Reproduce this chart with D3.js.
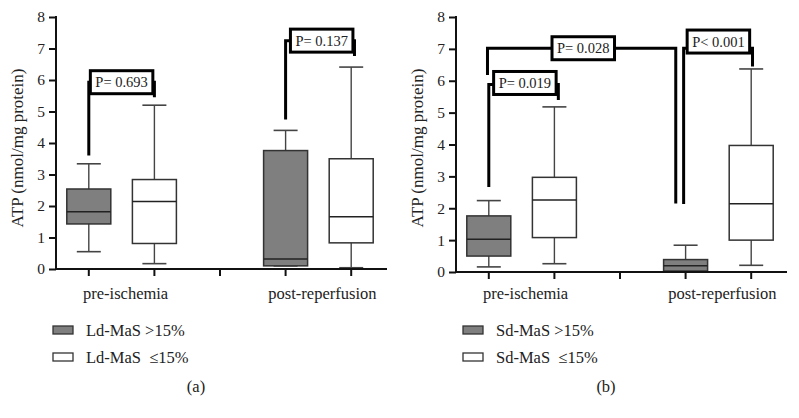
<!DOCTYPE html>
<html>
<head>
<meta charset="utf-8">
<script src="https://cdn.jsdelivr.net/npm/d3@7"></script>
<style>
  body { margin: 0; background: #fff; }
  text { font-family: "Liberation Serif", "DejaVu Serif", serif; fill: #222; }
</style>
</head>
<body>
<script>
width = 799;
height = 418;

// categories and slots on the x axis (slot 3 is the empty gap)
groups = ["pre-ischemia", "post-reperfusion"];
groupSlots = [1.5, 4.5];
boxSlots = [1, 2, 4, 5];
boxFills = ["gray", "white", "gray", "white"];
yTicks = [0, 1, 2, 3, 4, 5, 6, 7, 8];

// [min, q1, median, q3, max]
statsA = [
  [0.55, 1.43, 1.82, 2.54, 3.34],
  [0.17, 0.81, 2.14, 2.84, 5.20],
  [0.10, 0.10, 0.32, 3.76, 4.40],
  [0.04, 0.83, 1.66, 3.50, 6.41]
];
statsB = [
  [0.16, 0.50, 1.03, 1.76, 2.24],
  [0.26, 1.08, 2.26, 2.97, 5.18],
  [0.02, 0.03, 0.20, 0.39, 0.84],
  [0.21, 1.00, 2.14, 3.97, 6.37]
];

// brackets: legs at slots x1/x2, leg ends y1/y2, bar at y, label centre lx/ly
bracketsA = [
  {x1: 1, x2: 2, y1: 3.60, y: 5.93, y2: 5.45, lx: 1.5, ly: 5.93, label: "P= 0.693"},
  {x1: 4, x2: 5.05, y1: 4.75, y: 7.25, y2: 6.76, lx: 4.55, ly: 7.25, label: "P= 0.137"}
];
bracketsB = [
  {x1: 1, x2: 2.06, y1: 2.67, y: 5.88, y2: 5.40, lx: 1.55, ly: 5.93, label: "P= 0.019"},
  {x1: 0.98, x2: 3.85, y1: 6.18, y: 7.02, y2: 2.15, lx: 2.44, ly: 7.02, label: "P= 0.028"},
  {x1: 3.97, x2: 5.02, y1: 2.13, y: 7.02, y2: 6.45, lx: 4.5, ly: 7.23, label: "P< 0.001"}
];

legendA = ["Ld-MaS >15%", "Ld-MaS  \u226415%"];
legendB = ["Sd-MaS >15%", "Sd-MaS  \u226415%"];

svg = d3.select("body").append("svg")
  .attr("width", width)
  .attr("height", height);
svg.append("rect").attr("width", width).attr("height", height).attr("fill", "#fff");

function draw_panel(ox, y0, stats, brackets, legend, legendX, tag) {
  var g = svg.append("g");
  var x = d3.scaleLinear().domain([0.5, 5.5]).range([ox, ox + 328]);
  var y = d3.scaleLinear().domain([0, 8]).range([y0, 17]);
  var boxW = 44, capW = 24;

  // boxes
  var box = g.selectAll(".box").data(stats).enter().append("g");
  box.append("line")
    .attr("x1", function(d, i) { return x(boxSlots[i]); })
    .attr("x2", function(d, i) { return x(boxSlots[i]); })
    .attr("y1", function(d) { return y(d[0]); })
    .attr("y2", function(d) { return y(d[4]); })
    .attr("stroke", "#444").attr("stroke-width", 1.4);
  [0, 4].forEach(function(k) {
    box.append("line")
      .attr("x1", function(d, i) { return x(boxSlots[i]) - capW / 2; })
      .attr("x2", function(d, i) { return x(boxSlots[i]) + capW / 2; })
      .attr("y1", function(d) { return y(d[k]); })
      .attr("y2", function(d) { return y(d[k]); })
      .attr("stroke", "#444").attr("stroke-width", 1.6);
  });
  box.append("rect")
    .attr("x", function(d, i) { return x(boxSlots[i]) - boxW / 2; })
    .attr("width", boxW)
    .attr("y", function(d) { return y(d[3]); })
    .attr("height", function(d) { return y(d[1]) - y(d[3]); })
    .attr("fill", function(d, i) { return boxFills[i] == "gray" ? "#7f7f7f" : "#fff"; })
    .attr("stroke", "#333").attr("stroke-width", 1.5);
  box.append("line")
    .attr("x1", function(d, i) { return x(boxSlots[i]) - boxW / 2; })
    .attr("x2", function(d, i) { return x(boxSlots[i]) + boxW / 2; })
    .attr("y1", function(d) { return y(d[2]); })
    .attr("y2", function(d) { return y(d[2]); })
    .attr("stroke", "#222").attr("stroke-width", 1.5);

  // axes
  var yAxis = g.append("g")
    .attr("transform", "translate(" + ox + ",0)")
    .call(d3.axisLeft(y).tickValues(yTicks).tickSize(7).tickSizeOuter(0).tickPadding(4));
  yAxis.selectAll("path, line").attr("stroke", "#111").attr("stroke-width", 2);
  yAxis.selectAll("text").style("font-family", "Liberation Serif").style("font-size", "15.5px").attr("fill", "#222");
  yAxis.select(".domain").attr("d", "M0," + (y(8) - 1) + "V" + (y0 + 1));

  g.append("line").attr("x1", ox - 1).attr("x2", ox + 331)
    .attr("y1", y0).attr("y2", y0).attr("stroke", "#111").attr("stroke-width", 2);
  g.selectAll(".xt").data([1, 2, 3, 4, 5]).enter().append("line")
    .attr("x1", function(d) { return x(d); }).attr("x2", function(d) { return x(d); })
    .attr("y1", y0).attr("y2", y0 + 7)
    .attr("stroke", "#111").attr("stroke-width", 2);
  g.selectAll(".cat").data(groups).enter().append("text")
    .attr("x", function(d, i) { return x(groupSlots[i]) + 4; })
    .attr("y", 299)
    .attr("text-anchor", "middle")
    .style("font-size", "16.5px")
    .text(function(d) { return d; });

  g.append("text")
    .attr("transform", "translate(" + (ox - 33) + ",148) rotate(-90)")
    .attr("text-anchor", "middle")
    .style("font-size", "17px")
    .text("ATP (nmol/mg protein)");

  // significance brackets
  brackets.forEach(function(b) {
    g.append("path")
      .attr("d", "M" + x(b.x1) + "," + y(b.y1) + "V" + y(b.y) + "H" + x(b.x2) + "V" + y(b.y2))
      .attr("fill", "none").attr("stroke", "#000").attr("stroke-width", 3);
    var t = g.append("text")
      .attr("x", x(b.lx)).attr("y", y(b.ly))
      .attr("text-anchor", "middle").attr("dy", "0.35em")
      .style("font-size", "14.5px")
      .text(b.label);
    var bb = t.node().getBBox();
    g.insert("rect", function() { return t.node(); })
      .attr("x", bb.x - 5).attr("y", y(b.ly) - 11.5)
      .attr("width", bb.width + 10).attr("height", 23)
      .attr("fill", "#fff").attr("stroke", "#000").attr("stroke-width", 3);
  });

  // legend
  legend.forEach(function(name, i) {
    var ly = 326 + i * 27;
    g.append("rect").attr("x", legendX).attr("y", ly)
      .attr("width", 20).attr("height", 8)
      .attr("fill", i == 0 ? "#7f7f7f" : "#fff")
      .attr("stroke", "#333").attr("stroke-width", 1.3);
    g.append("text").attr("x", legendX + 33).attr("y", ly + 10)
      .style("font-size", "16.5px").style("white-space", "pre")
      .text(name);
  });

  g.append("text").attr("x", legendX + 143).attr("y", 392)
    .attr("text-anchor", "middle").style("font-size", "16.5px")
    .text(tag);
}

draw_panel(56, 269, statsA, bracketsA, legendA, 53, "(a)");
draw_panel(456, 272, statsB, bracketsB, legendB, 463, "(b)");
</script>
</body>
</html>
